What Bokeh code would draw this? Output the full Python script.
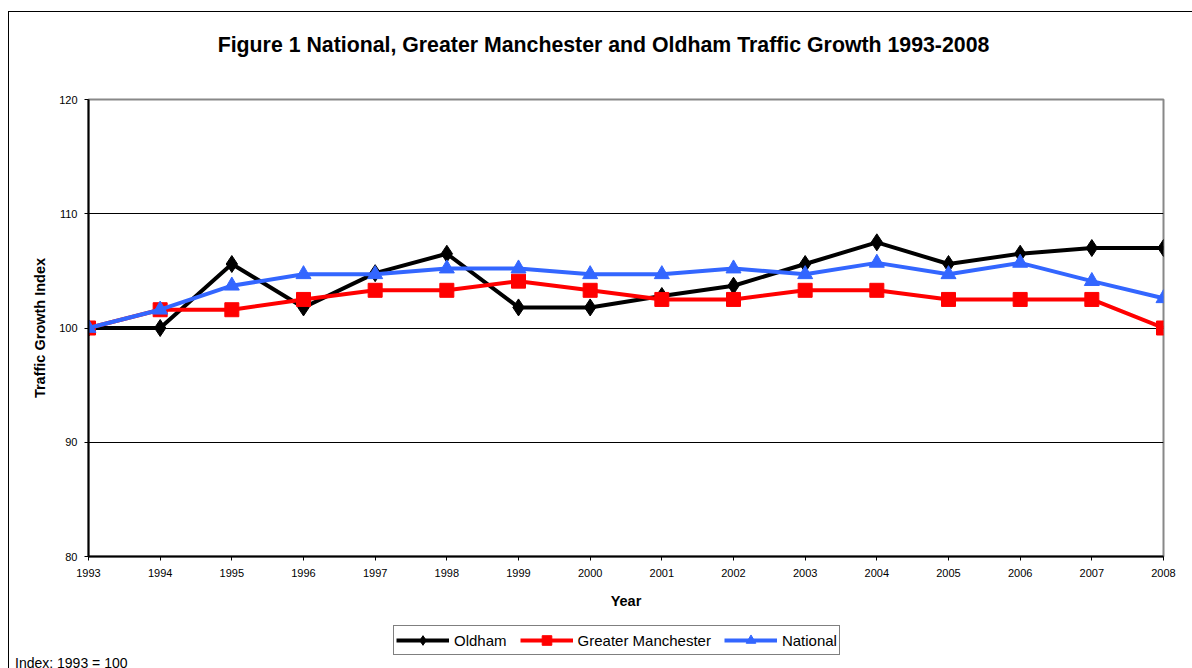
from bokeh.plotting import figure
from bokeh.layouts import column
from bokeh.models import Legend, LegendItem, FixedTicker, Range1d, Label, Div
from bokeh.embed import file_html
from bokeh.resources import INLINE

years = list(range(1993, 2009))
oldham = [100, 100, 105.6, 101.8, 104.8, 106.5, 101.8, 101.8, 102.8, 103.7, 105.6, 107.5, 105.6, 106.5, 107.0, 107.0]
greater_manchester = [100, 101.6, 101.6, 102.5, 103.3, 103.3, 104.1, 103.3, 102.5, 102.5, 103.3, 103.3, 102.5, 102.5, 102.5, 100]
national = [100, 101.6, 103.7, 104.7, 104.7, 105.2, 105.2, 104.7, 104.7, 105.2, 104.7, 105.7, 104.7, 105.7, 104.1, 102.6]
y_ticks = [80, 90, 100, 110, 120]
series_names = ["Oldham", "Greater Manchester", "National"]
title_text = "Figure 1 National, Greater Manchester and Oldham Traffic Growth 1993-2008"
note_text = "Index: 1993 = 100"

FONT = "Liberation Sans"
W = 1183
ML, MR = 79, 29


def strip(height):
    f = figure(width=W, height=height, output_backend="svg", toolbar_location=None,
               x_range=Range1d(0, 1), y_range=Range1d(0, 1),
               x_axis_location=None, y_axis_location=None,
               min_border_left=ML, min_border_right=MR, min_border_top=0, min_border_bottom=0)
    f.grid.visible = False
    f.outline_line_color = None
    f.background_fill_color = "white"
    f.border_fill_color = "white"
    return f


# header with the title
h = strip(77)
h.add_layout(Label(x=515, y=45, x_units="screen", y_units="screen", text=title_text,
                   text_font=FONT, text_font_size="21.3px", text_font_style="bold",
                   text_color="black", text_align="center", text_baseline="middle"))

# main chart
p = figure(width=W, height=523, output_backend="svg", toolbar_location=None,
           x_range=Range1d(1993, 2008), y_range=Range1d(80, 120),
           min_border_left=ML, min_border_right=MR, min_border_top=10, min_border_bottom=56)

p.outline_line_color = "#888888"
p.outline_line_width = 2
p.background_fill_color = "white"
p.border_fill_color = "white"

p.xgrid.grid_line_color = None
p.ygrid.grid_line_color = "black"
p.ygrid.grid_line_width = 1
p.yaxis.ticker = FixedTicker(ticks=y_ticks)
p.xaxis.ticker = FixedTicker(ticks=years)

for ax in (p.xaxis[0], p.yaxis[0]):
    ax.axis_line_color = "black"
    ax.axis_line_width = 2
    ax.major_tick_line_color = "black"
    ax.major_tick_out = 4
    ax.major_tick_in = 0
    ax.minor_tick_line_color = None
    ax.major_label_text_font = FONT
    ax.major_label_text_font_size = "11px"
    ax.major_label_text_color = "black"
    ax.axis_label_text_font = FONT
    ax.axis_label_text_font_size = "14.5px"
    ax.axis_label_text_font_style = "bold"
    ax.axis_label_text_color = "black"

p.xaxis.axis_label = "Year"
p.yaxis.axis_label = "Traffic Growth Index"
p.xaxis.axis_label_standoff = 13
p.yaxis.axis_label_standoff = 8
p.yaxis.major_label_standoff = 7
p.xaxis.major_label_standoff = 8

styles = [
    ("black", "diamond", 17),
    ("#FF0000", "square", 14),
    ("#3366FF", "triangle", 15),
]
for vals, (col, mk, sz) in zip([oldham, greater_manchester, national], styles):
    p.line(years, vals, line_color=col, line_width=4)
    p.scatter(years, vals, marker=mk, size=sz, fill_color=col, line_color=col)

# legend strip below the chart (proxy glyphs sit outside the strip's range)
q = strip(44)
items = []
for name, (col, mk, sz) in zip(series_names, styles):
    l = q.line(x=[-10, -9], y=[-10, -9], line_color=col, line_width=4)
    s = q.scatter(x=[-10], y=[-10], marker=mk, size=sz, fill_color=col, line_color=col)
    items.append(LegendItem(label=name, renderers=[l, s]))

legend = Legend(items=items, orientation="horizontal", location=(305, 1),
                border_line_color="black", border_line_width=1,
                label_text_font=FONT, label_text_font_size="15px", label_text_color="black",
                glyph_width=53, glyph_height=24, label_standoff=5, spacing=13,
                padding=2, margin=0, label_height=22)
q.add_layout(legend, "center")

note = Div(text=note_text, width=300, height=12,
           styles={"font-family": "Liberation Sans", "font-size": "14px",
                   "line-height": "14px", "margin-left": "6px", "color": "black",
                   "white-space": "nowrap", "position": "relative", "top": "-5px"})

lay = column(h, p, q, note, spacing=0,
             styles={"margin-left": "8px", "margin-top": "11px", "overflow": "hidden",
                     "border-left": "1px solid black", "border-top": "1px solid black"})

open("out.html", "w").write(file_html(lay, INLINE))
